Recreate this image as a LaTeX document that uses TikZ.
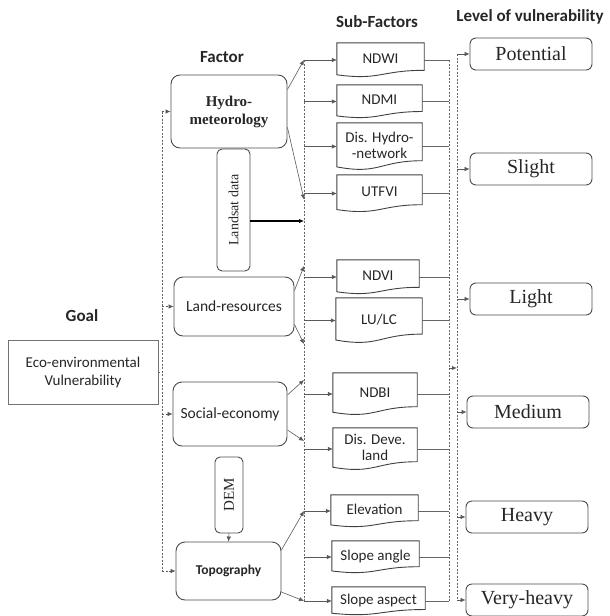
\documentclass[tikz,border=0pt]{standalone}
\usepackage{fontspec}
\setmainfont{Liberation Serif}
\setsansfont{Carlito}
\usetikzlibrary{arrows.meta,calc}

% outline of a sub-factor box with a wavy bottom edge
\newcommand\wavebox[1]{%
  \draw[subline] (#1.north west) -- (#1.north east) -- ($(#1.north east)!0.80!(#1.south east)$)
    .. controls ($(#1.north)!0.80!(#1.south)$) and ($(#1.north)!1.10!(#1.south)$)
    .. ($(#1.north west)!0.93!(#1.south west)$) -- cycle;}

\begin{document}
\begin{tikzpicture}[x=1pt, y=-1pt,
    every node/.style={inner sep=0pt, text centered, text=black!85},
    head/.style={font=\sffamily\bfseries\fontsize{17}{19}\selectfont},
    goalbox/.style={draw=black!55, line width=0.6pt, align=center, minimum width=150, minimum height=64,
      font=\sffamily\fontsize{15}{18}\selectfont},
    factor/.style={draw=black!70, line width=0.9pt, rounded corners=9pt, align=center,
      font=\sffamily\fontsize{15.5}{17}\selectfont},
    source/.style={draw=black!70, line width=0.9pt, rounded corners=5pt, rotate=90,
      font=\fontsize{14}{16}\selectfont},
    subfactor/.style={align=center, text depth=0.3em, font=\sffamily\fontsize{15}{16}\selectfont},
    subline/.style={draw=black!75, line width=0.9pt},
    level/.style={draw=black!70, line width=0.9pt, rounded corners=6pt, minimum width=122, minimum height=32,
      font=\fontsize{20}{22}\selectfont},
    bus/.style={draw=black!60, line width=0.6pt, dash pattern=on 2pt off 1.5pt},
    link/.style={draw=black!65, line width=0.6pt, -{Latex[length=5pt,width=4.5pt]}},
    feed/.style={draw=black!60, line width=0.6pt}]
\useasboundingbox (0,0) rectangle (610,616);

% headings
\node[head] (hgoal) at (82,316) {Goal};
\node[head] (hfactor) at (222,57) {Factor};
\node[head] (hsub) at (377,22) {Sub-Factors};
\node[head] (hlevel) at (530,17) {Level of vulnerability};

% goal
\node[goalbox] (goal) at (83,372) {Eco-environmental\\Vulnerability};

% factors
\node[factor, minimum width=116, minimum height=73, font=\bfseries\fontsize{15}{18}\selectfont] (hydro) at (229,111.5) {Hydro-\\meteorology};
\node[source, minimum width=122, minimum height=33] (landsat) at (233.5,210) {Landsat data};
\node[factor, minimum width=120, minimum height=59] (land) at (234,306.5) {Land-resources};
\node[factor, minimum width=114, minimum height=64] (social) at (230,414) {Social-economy};
\node[source, minimum width=76, minimum height=28, font=\fontsize{15}{16}\selectfont] (dem) at (229,495) {DEM};
\node[factor, minimum width=105, minimum height=58, font=\sffamily\bfseries\fontsize{13.5}{15}\selectfont] (topo) at (228.5,571) {Topography};

% sub-factors
\node[subfactor, minimum width=87, minimum height=34] (ndwi) at (380.5,60) {NDWI};
\node[subfactor, minimum width=85, minimum height=33] (ndmi) at (379.5,101.5) {NDMI};
\node[subfactor, minimum width=85, minimum height=47] (dishydro) at (379.5,146.5) {Dis. Hydro-\\-network};
\node[subfactor, minimum width=85, minimum height=37] (utfvi) at (379.5,193.5) {UTFVI};
\node[subfactor, minimum width=82, minimum height=34] (ndvi) at (378,277) {NDVI};
\node[subfactor, minimum width=86, minimum height=45] (lulc) at (379,320.5) {LU/LC};
\node[subfactor, minimum width=84, minimum height=42] (ndbi) at (375,394) {NDBI};
\node[subfactor, minimum width=84, minimum height=42] (disdeve) at (375,449) {Dis. Deve.\\land};
\node[subfactor, minimum width=87, minimum height=32] (elev) at (374.5,511) {Elevation};
\node[subfactor, minimum width=87, minimum height=32] (slopeang) at (375.5,557) {Slope angle};
\node[subfactor, minimum width=93, minimum height=28] (slopeasp) at (378.5,601) {Slope aspect};
\foreach \s in {ndwi,ndmi,dishydro,utfvi,ndvi,lulc,ndbi,disdeve,elev,slopeang,slopeasp}
  \wavebox{\s};

% levels
\node[level] (potential) at (531,54) {Potential};
\node[level] (slight) at (531,169) {Slight};
\node[level] (light) at (531,299) {Light};
\node[level] (medium) at (528,412) {Medium};
\node[level] (heavy) at (527,517) {Heavy};
\node[level] (veryheavy) at (527,600) {Very-heavy};

% bus lines
\coordinate (gbus) at (162,0);
\coordinate (fbus) at (304,0);
\coordinate (sbus) at (449,0);
\coordinate (lbus) at (457,0);
\coordinate (sjoin) at (449,368);

% goal -> factors
\draw[bus] (goal.east) -- (goal.east -| gbus);
\draw[bus] (hydro.west -| gbus) -- (topo.west -| gbus);
\foreach \f in {hydro,land,social,topo}
  \draw[link, dash pattern=on 2pt off 1.5pt] (\f.west -| gbus) -- (\f.west);

% factors -> sub-factor bus
\draw[bus] (ndwi.west -| fbus) -- (slopeasp.west -| fbus);
\draw[link] ([yshift=22pt]hydro.east) -- (ndwi.west -| fbus);
\draw[link] ([yshift=-16pt]hydro.east) -- ($(utfvi.west -| fbus)+(0,6)$);
\draw[link, line width=1.6pt, draw=black] ([yshift=-11pt]landsat.south) -- ([yshift=-11pt]landsat.south -| fbus);
\draw[link] ([yshift=16pt]land.east) -- ($(ndvi.west -| fbus)+(0,-11)$);
\draw[link] ([yshift=-18pt]land.east) -- ($(ndbi.west -| fbus)+(0,-50)$);
\draw[link] ([yshift=19pt]social.east) -- ($(ndbi.west -| fbus)+(0,-14)$);
\draw[link] ([yshift=-16pt]social.east) -- ($(disdeve.west -| fbus)+(0,-8)$);
\draw[link] ([yshift=21pt]topo.east) -- (elev.west -| fbus);
\draw[link] ([yshift=-21pt]topo.east) -- (slopeasp.west -| fbus);
\draw[link] (dem.west) -- (topo.north);

% sub-factor bus -> sub-factors
\foreach \s in {ndwi,ndmi,dishydro,utfvi,ndvi,lulc,ndbi,disdeve,elev,slopeang,slopeasp}
  \draw[link] (\s.west -| fbus) -- (\s.west);

% sub-factors -> levels
\foreach \s in {ndwi,ndmi,dishydro,utfvi,ndvi,lulc,ndbi,disdeve,elev,slopeang,slopeasp}
  \draw[feed] (\s.east) -- (\s.east -| sbus);
\draw[bus] (ndwi.east -| sbus) -- (slopeasp.east -| sbus);
\draw[bus] (potential.west -| lbus) -- (veryheavy.west -| lbus);
\draw[link, line width=1pt] (sjoin) -- (sjoin -| lbus);
\foreach \l in {potential,slight,light,medium,heavy,veryheavy}
  \draw[link] (\l.west -| lbus) -- (\l.west);

\end{tikzpicture}
\end{document}
